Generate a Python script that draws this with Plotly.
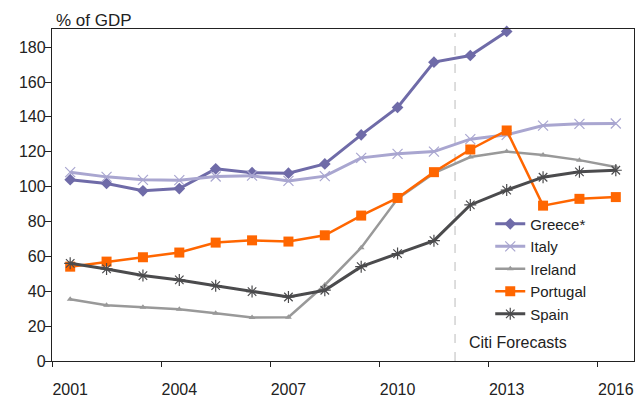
import plotly.graph_objects as go

years = list(range(2001, 2017))
greece = [104, 101.8, 97.6, 98.9, 110.2, 108, 107.7, 113, 129.7, 145.4, 171.4, 175.2, 189, None, None, None]
italy = [108.3, 105.6, 103.9, 103.7, 105.8, 106.3, 103.3, 106, 116.5, 118.8, 120.1, 127.2, 129.7, 135, 136, 136.2]
ireland = [35.4, 32, 30.8, 29.7, 27.4, 24.9, 25.1, 43.6, 65, 93, 107.7, 117, 120.1, 118.2, 115.2, 111.2]
portugal = [54.1, 57, 59.5, 62.2, 67.9, 69.2, 68.5, 72.1, 83.4, 93.5, 108.3, 121.3, 132.2, 89.1, 93, 94]
spain = [56, 52.8, 49, 46.5, 43.2, 39.8, 36.7, 40.6, 54.1, 61.6, 69, 89.5, 98, 105.4, 108.5, 109.4]

tick_years = [2001, 2004, 2007, 2010, 2013, 2016]
tick_labels = [str(y) for y in tick_years]
boundary_ticks = [2000.5, 2003.5, 2006.5, 2009.5, 2012.5, 2015.5]
forecast_start = 2011.58

FONT = "Liberation Sans Narrow, Arial Narrow, Liberation Sans, Arial, sans-serif"
FS = 16

fig = go.Figure()
fig.add_trace(go.Scatter(x=years, y=greece, name="Greece*", mode="lines+markers",
                         line=dict(color="#6F6BA8", width=3),
                         marker=dict(symbol="diamond", size=9, color="#6F6BA8"),
                         cliponaxis=False))
fig.add_trace(go.Scatter(x=years, y=italy, name="Italy", mode="lines+markers",
                         line=dict(color="#A9A6D0", width=3),
                         marker=dict(symbol="x-thin-open", size=10, color="#A9A6D0",
                                     line=dict(color="#A9A6D0", width=1.2))))
fig.add_trace(go.Scatter(x=years, y=ireland, name="Ireland", mode="lines+markers",
                         line=dict(color="#999999", width=2.5),
                         marker=dict(symbol="triangle-up", size=6, color="#999999")))
fig.add_trace(go.Scatter(x=years, y=portugal, name="Portugal", mode="lines+markers",
                         line=dict(color="#FF6600", width=2.5),
                         marker=dict(symbol="square", size=10, color="#FF6600")))
fig.add_trace(go.Scatter(x=years, y=spain, name="Spain", mode="lines+markers",
                         line=dict(color="#4B4B4D", width=3),
                         marker=dict(symbol="asterisk-open", size=10, color="#4B4B4D",
                                     line=dict(color="#4B4B4D", width=1.2))))

fig.add_shape(type="line", xref="x", yref="y", x0=forecast_start, x1=forecast_start,
              y0=0, y1=188, line=dict(color="#BBBBBB", width=1, dash="dash"), layer="below")

fig.add_annotation(text="% of GDP", xref="paper", yref="paper", x=0, y=1,
                   xanchor="left", yanchor="bottom", xshift=2, yshift=-3, showarrow=False,
                   font=dict(size=FS + 1, color="#222222", family=FONT))
fig.add_annotation(text="Citi Forecasts", xref="x", yref="y", x=forecast_start, y=10.5,
                   xanchor="left", yanchor="middle", xshift=12, showarrow=False,
                   font=dict(size=FS, color="#222222", family=FONT))

fig.update_layout(
    width=635, height=401,
    margin=dict(l=52, r=1, t=29, b=40),
    paper_bgcolor="white", plot_bgcolor="white",
    font=dict(family=FONT, size=FS, color="#222222"),
    showlegend=True,
    legend=dict(x=0.753, y=0.462, xanchor="left", yanchor="top",
                bgcolor="rgba(0,0,0,0)", font=dict(size=15, family=FONT),
                itemwidth=30, tracegroupgap=0),
)
fig.update_xaxes(range=[2000.5, 2016.5], tickmode="array", tickvals=tick_years,
                 ticktext=tick_labels, ticks="", showgrid=False, zeroline=False,
                 showline=True, linecolor="#222222", linewidth=1.3, mirror=True,
                 automargin=False, ticklabelstandoff=14,
                 minor=dict(tickmode="array", tickvals=boundary_ticks, ticks="outside",
                            ticklen=5, tickcolor="#222222", tickwidth=1.3, showgrid=False))
fig.update_yaxes(range=[0, 190.4], tickmode="linear", tick0=0, dtick=20,
                 ticks="outside", ticklen=6, tickcolor="#222222", tickwidth=1.3,
                 showgrid=False, zeroline=False, showline=True, linecolor="#222222",
                 linewidth=1.3, mirror=True, automargin=False, ticklabelstandoff=-4)

fig.write_html("out.html", config={"displayModeBar": False},
               post_script="document.body.style.margin='0px';")
